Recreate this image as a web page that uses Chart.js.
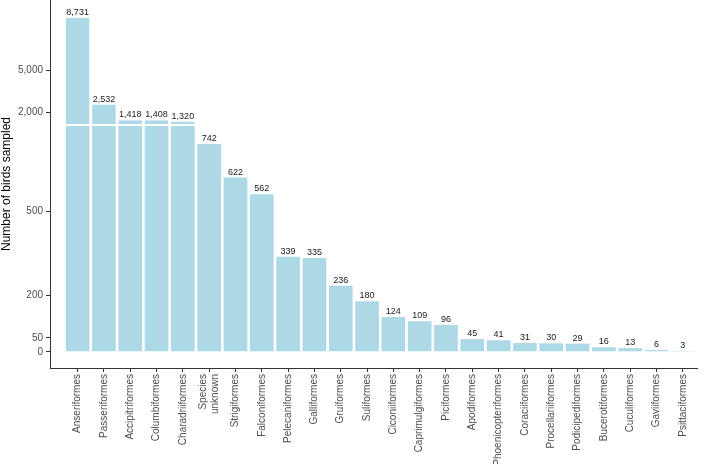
<!DOCTYPE html>
<html>
<head>
<meta charset="utf-8">
<script src="https://cdn.jsdelivr.net/npm/chart.js@4.4.1/dist/chart.umd.min.js"></script>
<style>
  html, body { margin: 0; padding: 0; background: #fff; }
  #wrap { width: 709px; height: 464px; }
</style>
</head>
<body>
<div id="wrap"><canvas id="birds"></canvas></div>
<script>
// data
const orders = ['Anseriformes', 'Passeriformes', 'Accipitriformes', 'Columbiformes', 'Charadriiformes',
  ['Species', 'unknown'], 'Strigiformes', 'Falconiformes', 'Pelecaniformes', 'Galliformes',
  'Gruiformes', 'Suliformes', 'Ciconiiformes', 'Caprimulgiformes', 'Piciformes', 'Apodiformes',
  'Phoenicopteriformes', 'Coraciiformes', 'Procellariiformes', 'Podicipediformes', 'Bucerotiformes',
  'Cuculiformes', 'Gaviiformes', 'Psittaciformes'];
const birdCounts = [8731, 2532, 1418, 1408, 1320, 742, 622, 562, 339, 335, 236, 180, 124, 109, 96,
  45, 41, 31, 30, 29, 16, 13, 6, 3];
const lowTicks = [0, 50, 200, 500];
const highTicks = [2000, 5000];
const lowMin = -58, lowMax = 806;     // lower (broken) segment of the y axis
const highMin = 1000, highMax = 10000; // upper segment

const FONT = "'Liberation Sans', Arial, sans-serif";
const fmt = v => v.toLocaleString('en-US');

const lowData = birdCounts.map((v, i) => ({ x: i, y: Math.min(v, lowMax) }));
const highData = birdCounts.map((v, i) => ({ x: i, y: v > highMin ? [highMin, v] : null }));

// value labels above bars + y title; also centre two-line x labels on their tick
const extras = {
  id: 'extras',
  beforeDraw(chart) {
    const items = chart.scales.x.getLabelItems();
    items.forEach(it => {
      if (Array.isArray(it.label)) {
        it.textOffset -= (it.label.length - 1) * it.font.lineHeight / 2;
      }
    });
  },
  afterDatasetsDraw(chart) {
    const ctx = chart.ctx;
    const low = chart.getDatasetMeta(0).data;
    const high = chart.getDatasetMeta(1).data;
    ctx.save();
    ctx.font = '9px ' + FONT;
    ctx.fillStyle = '#1a1a1a';
    ctx.textAlign = 'center';
    ctx.textBaseline = 'alphabetic';
    birdCounts.forEach((v, i) => {
      const el = v > highMin ? high[i] : low[i];
      ctx.fillText(fmt(v), el.x, el.y - 3);
    });
    // axis title centred on the whole panel
    const a = chart.chartArea;
    ctx.translate(7, (a.top + a.bottom) / 2);
    ctx.rotate(-Math.PI / 2);
    ctx.font = '12px ' + FONT;
    ctx.fillStyle = '#000';
    ctx.textBaseline = 'middle';
    ctx.fillText('Number of birds sampled', 0, 0);
    ctx.restore();
  }
};

const axisGrid = { drawOnChartArea: false, drawTicks: true, tickLength: 4, color: '#333', offset: false };
const axisBorder = { display: true, color: '#333', width: 1 };
const tickFont = { family: FONT, size: 10 };

function fitY(s) {
  s.width = 50;
  s.paddingTop = 0;
  s.paddingBottom = 0;
}

const ctx = document.getElementById('birds').getContext('2d');
new Chart(ctx, {
  type: 'bar',
  data: {
    datasets: [
      {
        data: lowData,
        yAxisID: 'yLow',
        backgroundColor: '#ADD8E6',
        borderWidth: 0
      },
      {
        data: highData,
        yAxisID: 'yHigh',
        backgroundColor: '#ADD8E6',
        borderColor: '#ffffff',
        borderWidth: { top: 0, left: 0, right: 0, bottom: 2 },
        borderSkipped: false
      }
    ]
  },
  options: {
    responsive: true,
    maintainAspectRatio: false,
    animation: false,
    grouped: false,
    barPercentage: 0.9,
    categoryPercentage: 1,
    layout: { padding: { top: 0, left: 0, right: 12, bottom: 0 } },
    plugins: {
      legend: { display: false },
      tooltip: { enabled: false }
    },
    scales: {
      x: {
        type: 'linear',
        offset: false,
        min: -1.05,
        max: 23.54,
        grid: axisGrid,
        border: axisBorder,
        ticks: {
          autoSkip: false,
          minRotation: 90,
          maxRotation: 90,
          padding: 2,
          color: '#4d4d4d',
          font: tickFont,
          callback: v => orders[v]
        },
        afterBuildTicks: s => { s.ticks = orders.map((o, i) => ({ value: i })); },
        afterFit: s => { s.height = 96; s.paddingLeft = 0; s.paddingRight = 0; }
      },
      yLow: {
        type: 'linear',
        position: 'left',
        stack: 'birds',
        stackWeight: 242,
        min: lowMin,
        max: lowMax,
        grid: axisGrid,
        border: axisBorder,
        ticks: { padding: 3, color: '#4d4d4d', font: tickFont, callback: v => fmt(v) },
        afterBuildTicks: s => { s.ticks = lowTicks.map(v => ({ value: v })); },
        afterFit: fitY
      },
      yHigh: {
        type: 'linear',
        position: 'left',
        stack: 'birds',
        stackWeight: 126,
        min: highMin,
        max: highMax,
        grid: axisGrid,
        border: axisBorder,
        ticks: { padding: 3, color: '#4d4d4d', font: tickFont, callback: v => fmt(v) },
        afterBuildTicks: s => { s.ticks = highTicks.map(v => ({ value: v })); },
        afterFit: fitY
      }
    }
  },
  plugins: [extras]
});
</script>
</body>
</html>
